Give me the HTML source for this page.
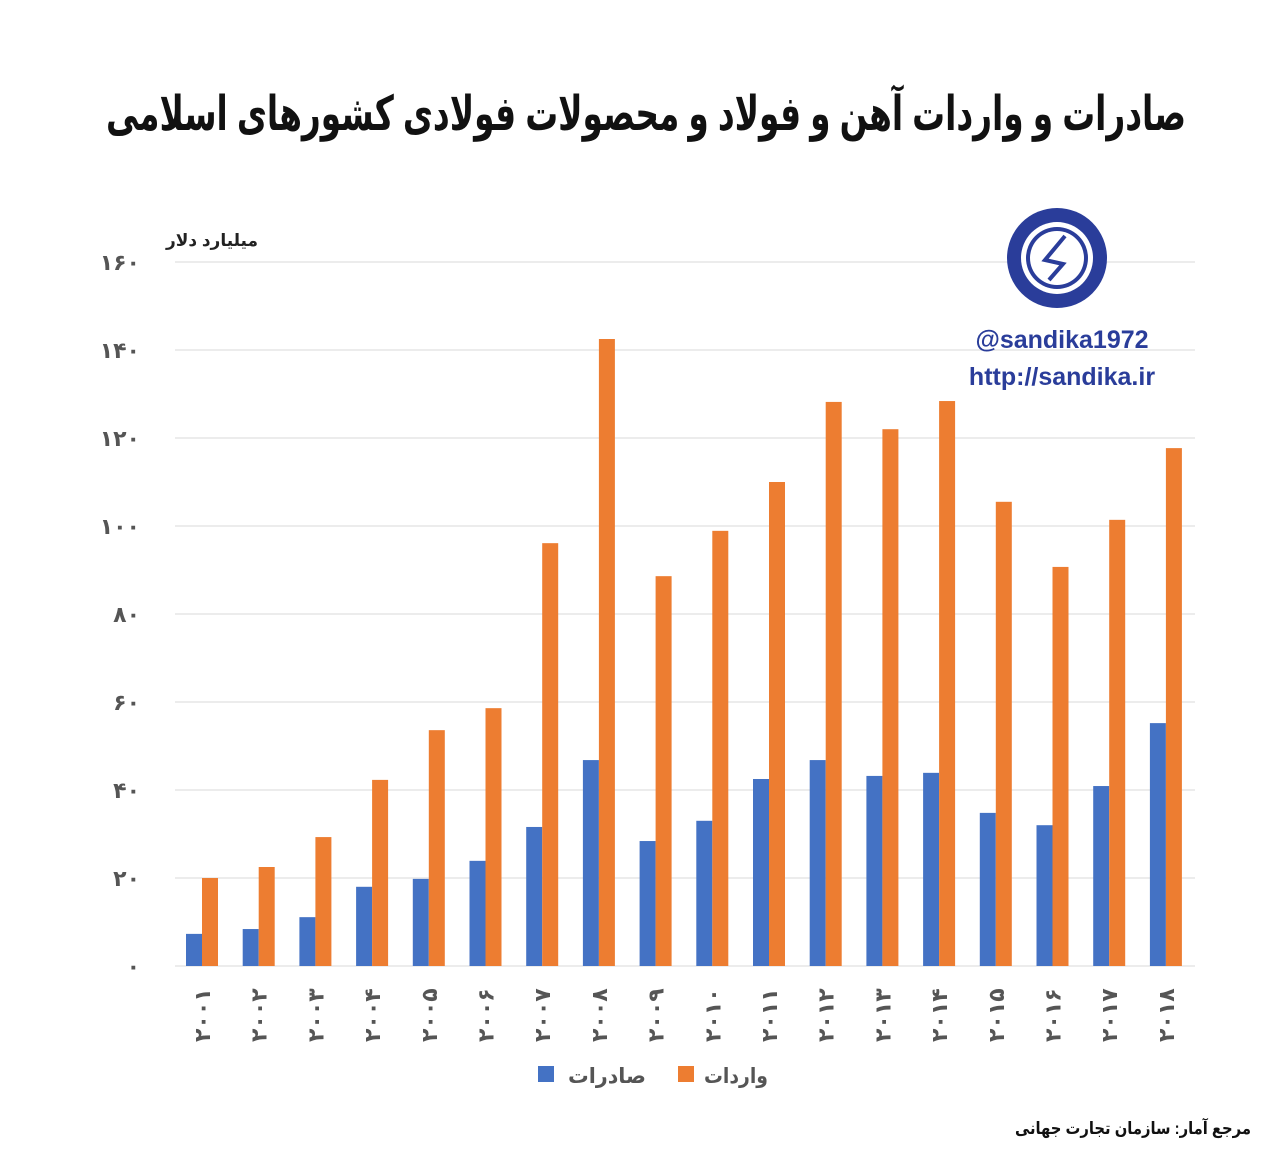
<!DOCTYPE html>
<html><head><meta charset="utf-8"><style>
body{margin:0;background:#fff;width:1280px;height:1162px;overflow:hidden}
svg{display:block}
text{font-family:"Liberation Sans","DejaVu Sans",sans-serif}
</style></head><body>
<svg width="1280" height="1162" viewBox="0 0 1280 1162" xmlns="http://www.w3.org/2000/svg">
<text x="646" y="130" text-anchor="middle" font-size="48" font-weight="bold" fill="#111" textLength="1080" lengthAdjust="spacingAndGlyphs">صادرات و واردات آهن و فولاد و محصولات فولادی کشورهای اسلامی</text>
<text x="212" y="246" text-anchor="middle" font-size="17" font-weight="bold" fill="#222" textLength="92" lengthAdjust="spacingAndGlyphs">میلیارد دلار</text>
<g stroke="#d9d9d9" stroke-width="1">
<line x1="175" x2="1195" y1="262" y2="262"/><line x1="175" x2="1195" y1="350" y2="350"/><line x1="175" x2="1195" y1="438" y2="438"/><line x1="175" x2="1195" y1="526" y2="526"/><line x1="175" x2="1195" y1="614" y2="614"/><line x1="175" x2="1195" y1="702" y2="702"/><line x1="175" x2="1195" y1="790" y2="790"/><line x1="175" x2="1195" y1="878" y2="878"/><line x1="175" x2="1195" y1="966" y2="966"/>
</g>
<g font-size="22" font-weight="bold" fill="#555" text-anchor="end">
<text x="140" y="270">۱۶۰</text><text x="140" y="358">۱۴۰</text><text x="140" y="446">۱۲۰</text><text x="140" y="534">۱۰۰</text><text x="140" y="622">۸۰</text><text x="140" y="710">۶۰</text><text x="140" y="798">۴۰</text><text x="140" y="886">۲۰</text><text x="140" y="974">۰</text>
</g>
<g id="bars"></g>
<g id="xl" font-size="22" font-weight="bold" fill="#555"></g>
<g transform="translate(1057,258)">
<circle r="50" fill="#2a3d9a"/>
<circle r="36" fill="#fff"/>
<circle r="31" fill="#2a3d9a"/>
<circle r="27" fill="#fff"/>
<path d="M8,-22 L-12,2 L6,6 L-8,22" fill="none" stroke="#2a3d9a" stroke-width="4"/>
</g>
<text x="1062" y="348" text-anchor="middle" font-size="25" font-weight="bold" fill="#2a3d9a">@sandika1972</text>
<text x="1062" y="385" text-anchor="middle" font-size="25" font-weight="bold" fill="#2a3d9a">http://sandika.ir</text>
<rect x="538" y="1066" width="16" height="16" fill="#4472c4"/>
<text x="607" y="1083" text-anchor="middle" font-size="21" font-weight="bold" fill="#555" textLength="78" lengthAdjust="spacingAndGlyphs">صادرات</text>
<rect x="678" y="1066" width="16" height="16" fill="#ed7d31"/>
<text x="736" y="1083" text-anchor="middle" font-size="21" font-weight="bold" fill="#555" textLength="64" lengthAdjust="spacingAndGlyphs">واردات</text>
<text x="1133" y="1134" text-anchor="middle" font-size="17" font-weight="bold" fill="#111" textLength="236" lengthAdjust="spacingAndGlyphs">مرجع آمار: سازمان تجارت جهانی</text>
</svg>
<script>
var b=[7.3,8.4,11.1,18,19.8,23.9,31.6,46.8,28.4,33,42.5,46.8,43.2,43.9,34.8,32,40.9,55.2];
var o=[20,22.5,29.3,42.3,53.6,58.6,96.1,142.5,88.6,98.9,110,128.2,122,128.4,105.5,90.7,101.4,117.7];
var ns="http://www.w3.org/2000/svg",g=document.getElementById('bars'),xl=document.getElementById('xl');
var d="۰۱۲۳۴۵۶۷۸۹";
for(var i=0;i<18;i++){var x=186+56.7*i;
[[b[i],x,'#4472c4'],[o[i],x+16,'#ed7d31']].forEach(function(a){var r=document.createElementNS(ns,'rect');var h=a[0]*4.4;r.setAttribute('x',a[1]);r.setAttribute('y',966-h);r.setAttribute('width',16);r.setAttribute('height',h);r.setAttribute('fill',a[2]);g.appendChild(r);});
var y=String(2001+i).split('').map(function(c){return d[+c]}).join('');
var t=document.createElementNS(ns,'text');t.setAttribute('transform','translate('+(x+24)+',1042) rotate(-90)');t.textContent=y;xl.appendChild(t);}
</script>
</body></html>
